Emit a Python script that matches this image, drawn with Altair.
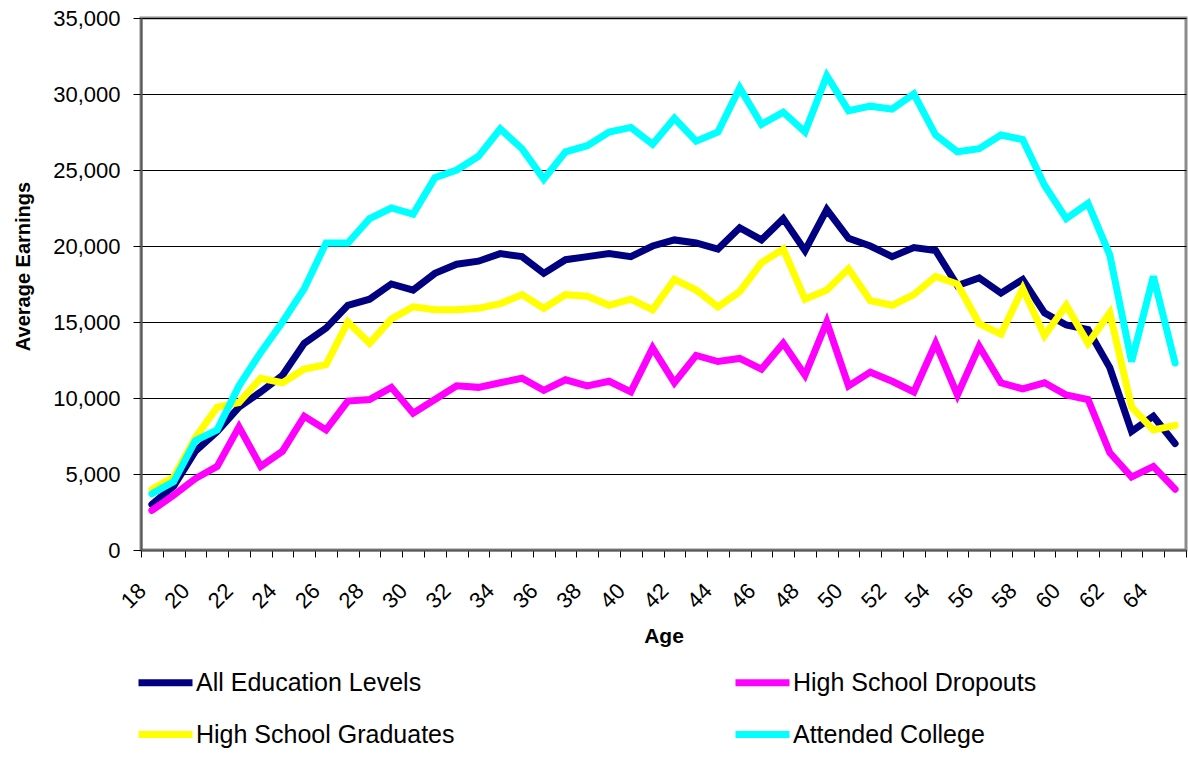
import altair as alt
import pandas as pd

ages = list(range(18, 66))

all_levels = [3000, 4200, 6500, 7800, 9400, 10400, 11500, 13600, 14600, 16100, 16500, 17500,
              17100, 18200, 18800, 19000, 19500, 19300, 18200, 19100, 19300, 19500, 19300, 20000,
              20400, 20200, 19800, 21200, 20400, 21800, 19700, 22400, 20500, 20000, 19300, 19900,
              19700, 17400, 17900, 16900, 17800, 15600, 14800, 14500, 12000, 7800, 8800, 7000]

dropouts = [2600, 3600, 4700, 5500, 8100, 5500, 6500, 8800, 7900, 9800, 9900, 10700,
            9000, 9900, 10800, 10700, 11000, 11300, 10500, 11200, 10800, 11100, 10400, 13300,
            11000, 12800, 12400, 12600, 11900, 13600, 11500, 15000, 10800, 11700, 11100, 10400,
            13600, 10200, 13400, 11000, 10600, 11000, 10200, 9900, 6400, 4800, 5500, 4000]

graduates = [4000, 4800, 7400, 9400, 9700, 11300, 11000, 11900, 12200, 15000, 13600, 15200,
             16000, 15800, 15800, 15900, 16200, 16800, 15900, 16800, 16700, 16100, 16500, 15800,
             17800, 17100, 16000, 17000, 18900, 19800, 16500, 17100, 18500, 16400, 16100, 16800,
             18000, 17500, 14900, 14200, 17200, 14100, 16100, 13600, 15600, 9400, 7900, 8200]

college = [3700, 4500, 7200, 7900, 10800, 13000, 15000, 17200, 20200, 20200, 21800, 22500,
           22100, 24500, 25000, 25900, 27700, 26400, 24400, 26200, 26600, 27500, 27800, 26700,
           28400, 26900, 27500, 30400, 28000, 28800, 27500, 31200, 28900, 29200, 29000, 30000,
           27300, 26200, 26400, 27300, 27000, 24000, 21800, 22800, 19400, 12400, 18000, 12300]

series_names = ["All Education Levels", "High School Dropouts",
                "High School Graduates", "Attended College"]
series_colors = ["#000080", "#FF00FF", "#FFFF00", "#00FFFF"]
series_values = [all_levels, dropouts, graduates, college]

# legend fills column by column: order so rows read All/Dropouts, Graduates/College
legend_order = ["All Education Levels", "High School Graduates",
                "High School Dropouts", "Attended College"]
legend_colors = [series_colors[series_names.index(n)] for n in legend_order]

rows = []
for name, vals in zip(series_names, series_values):
    for a, v in zip(ages, vals):
        rows.append({"Age": a, "Earnings": v, "Series": name})
df = pd.DataFrame(rows)

FONT = "Liberation Sans"

chart = alt.Chart(df).mark_line(strokeWidth=7, strokeCap="round", strokeJoin="miter").encode(
    x=alt.X("Age:O",
            scale=alt.Scale(type="band", paddingInner=0, paddingOuter=0),
            bandPosition=0.5,
            axis=alt.Axis(
                title="Age", titleFont=FONT, titleFontSize=21, titleFontWeight="bold",
                titleColor="#000000", titleBaseline="middle", titleY=86,
                labelExpr="datum.value % 2 == 0 ? datum.label : ''",
                labelAngle=-45, labelAlign="right", labelBaseline="middle",
                labelFont=FONT, labelFontSize=22, labelColor="#000000",
                labelPadding=30, labelOffset=-10,
                tickBand="extent", ticks=True, tickSize=7, tickColor="#000000",
                tickWidth=1, domainColor="#595959", domainWidth=2,
                grid=False, labelOverlap=False)),
    y=alt.Y("Earnings:Q",
            scale=alt.Scale(domain=[0, 35000], nice=False),
            axis=alt.Axis(
                title="Average Earnings", titleFont=FONT, titleFontSize=20,
                titleFontWeight="bold", titleColor="#000000",
                titleX=-118, titleY=248, titleAngle=-90, titleBaseline="middle",
                values=[0, 5000, 10000, 15000, 20000, 25000, 30000, 35000],
                format=",d", labelFont=FONT, labelFontSize=22, labelColor="#000000",
                labelPadding=13, tickSize=8, tickColor="#000000", tickWidth=1,
                domainColor="#595959", domainWidth=2,
                grid=True, gridColor="#000000", gridWidth=1)),
    color=alt.Color("Series:N",
                    scale=alt.Scale(domain=legend_order, range=legend_colors),
                    legend=alt.Legend(
                        title=None, orient="none", legendX=-6, legendY=634,
                        columns=2, columnPadding=266, rowPadding=7,
                        symbolType="stroke", symbolSize=2916, symbolStrokeWidth=7,
                        labelFont=FONT, labelFontSize=25, labelColor="#000000",
                        labelLimit=0, labelOffset=0, symbolOffset=0)),
    detail="Series:N",
).properties(
    width=1045, height=532,
    autosize=alt.AutoSizeParams(type="none"),
    padding={"left": 141, "top": 18, "right": 2, "bottom": 211},
    background="#FFFFFF",
).configure_view(
    stroke="#8C8C8C", strokeWidth=3, fill="#FFFFFF"
)

chart.save("out.html", embed_options={"renderer": "svg", "actions": False})
